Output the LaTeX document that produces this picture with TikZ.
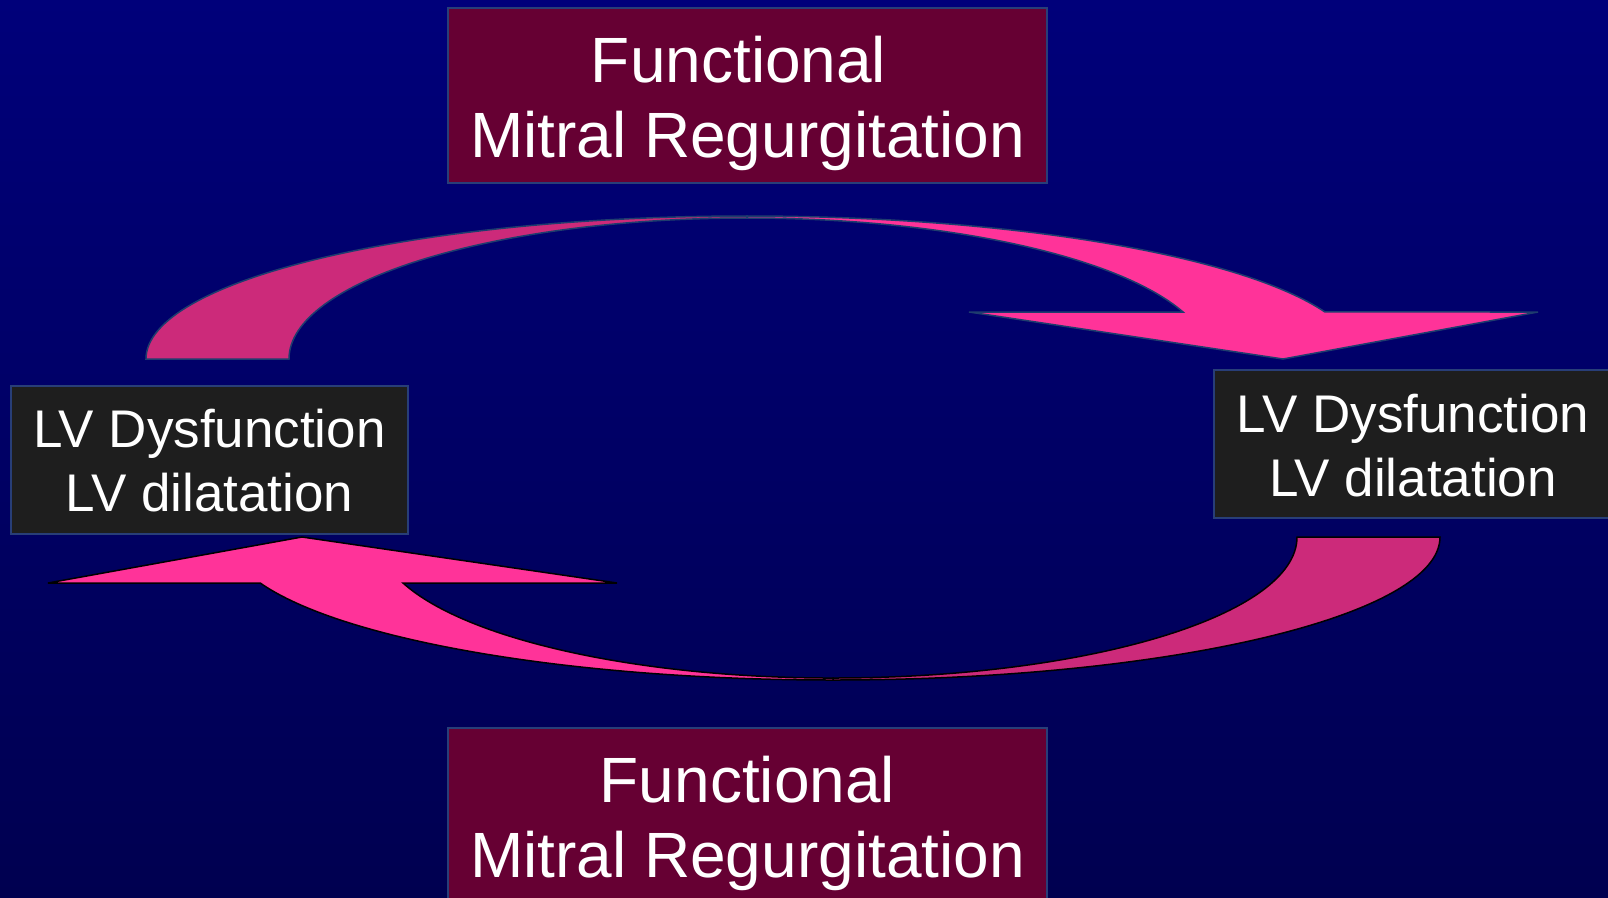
\documentclass[tikz,border=0pt]{standalone}
\usepackage{fontspec}
\setmainfont{Liberation Sans}
\definecolor{bgtop}{RGB}{0,0,122}
\definecolor{bgbot}{RGB}{0,0,80}
\definecolor{mrfill}{RGB}{102,0,51}
\definecolor{lvfill}{RGB}{30,30,30}
\definecolor{boxedge}{RGB}{40,62,120}
\definecolor{pinkfront}{RGB}{255,51,153}
\definecolor{pinkback}{RGB}{204,42,122}
\definecolor{topedge}{RGB}{30,60,110}
\begin{document}
\begin{tikzpicture}[x=1pt,y=1pt,yscale=-1,
  mrbox/.style={draw=boxedge, line width=1.2pt, fill=mrfill, minimum width=599pt, minimum height=175pt, inner sep=0pt},
  lvbox/.style={draw=boxedge, line width=1.2pt, fill=lvfill, minimum width=397pt, minimum height=148pt, inner sep=0pt},
  mrtext/.style={text=white, align=center, inner sep=0pt, font=\fontsize{64}{75}\selectfont},
  lvtext/.style={text=white, align=center, inner sep=0pt, font=\fontsize{53}{64}\selectfont},
  upperarrow/.style={draw=topedge, line width=1.5pt, line join=miter},
  lowerarrow/.style={draw=black, line width=1.5pt, line join=miter}]
\useasboundingbox (0,0) rectangle (1608,897);
\fill[top color=bgtop, bottom color=bgbot] (0,0) rectangle (1608,897);
% upper curved arrow: back face, then front face with head
\filldraw[upperarrow, fill=pinkback] (146,359) arc[start angle=180, end angle=270, x radius=601, y radius=143]
  -- (747,218) arc[start angle=270, end angle=180, x radius=458, y radius=141] -- cycle;
\filldraw[upperarrow, fill=pinkfront] (747,216) arc[start angle=270, end angle=340.8, x radius=612, y radius=143]
  -- (1538,312) -- (1283,359) -- (969,312) -- (1183,312)
  arc[start angle=340.53, end angle=270, x radius=462, y radius=141] -- cycle;
% lower curved arrow
\filldraw[lowerarrow, fill=pinkback] (1440,537) arc[start angle=0, end angle=90, x radius=607, y radius=143]
  -- (833,678) arc[start angle=90, end angle=0, x radius=464, y radius=141] -- cycle;
\filldraw[lowerarrow, fill=pinkfront] (833,680) arc[start angle=90, end angle=161.23, x radius=605, y radius=143]
  -- (48,583) -- (302,537) -- (617,583) -- (403,583)
  arc[start angle=160.97, end angle=90, x radius=455, y radius=141] -- cycle;
% boxes
\node[mrbox] (mrtop) at (747.5,95.5) {};
\node[mrtext] (mrtoptext) at (747.5,103) {Functional\hspace*{.278em}\\Mitral Regurgitation};
\node[mrbox] (mrbot) at (747.5,815.5) {};
\node[mrtext] (mrbottext) at (747.5,823.5) {Functional\\Mitral Regurgitation};
\node[lvbox] (lvleft) at (209.5,460) {};
\node[lvtext] (lvlefttext) at (209.5,461) {LV Dysfunction\\LV dilatation};
\node[lvbox, minimum width=398pt] (lvright) at (1413,444) {};
\node[lvtext] (lvrighttext) at (1413,445.5) {LV Dysfunction\\LV dilatation};
\end{tikzpicture}
\end{document}
